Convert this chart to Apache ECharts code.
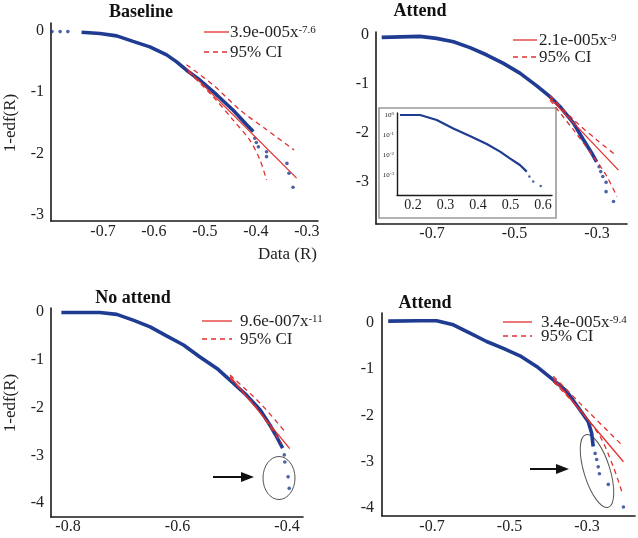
<!DOCTYPE html>
<html><head><meta charset="utf-8">
<script src="https://cdn.jsdelivr.net/npm/echarts@6/dist/echarts.min.js"></script>
<style>html,body{margin:0;padding:0;background:#fff}#c{width:638px;height:538px}</style>
</head><body><div id="c"></div>
<script>
// ---------- data (log10 values) ----------
// Panel A: Baseline
const baselineStartDots = [[-0.800,-0.01],[-0.784,-0.01],[-0.769,-0.01]];
const baselineCurve = [[-0.742,-0.02],[-0.706,-0.04],[-0.673,-0.08],[-0.641,-0.17],[-0.608,-0.26],[-0.575,-0.39],[-0.556,-0.50],[-0.536,-0.64],[-0.510,-0.80],[-0.477,-1.04],[-0.445,-1.29],[-0.418,-1.53],[-0.405,-1.64]];
const baselineTail = [[-0.402,-1.75],[-0.399,-1.82],[-0.395,-1.89],[-0.379,-1.97],[-0.379,-2.05],[-0.339,-2.16],[-0.335,-2.32],[-0.327,-2.55]];
const baselineFit = [[-0.536,-0.61],[-0.320,-2.40]];
const baselineCiUp = [[-0.536,-0.55],[-0.484,-0.88],[-0.431,-1.29],[-0.379,-1.61],[-0.325,-1.94]];
const baselineCiLo = [[-0.533,-0.66],[-0.484,-1.07],[-0.445,-1.45],[-0.412,-1.78],[-0.392,-2.10],[-0.379,-2.43]];
// Panel B: Attend (top)
const attendCurve = [[-0.822,-0.05],[-0.729,-0.03],[-0.689,-0.07],[-0.648,-0.14],[-0.608,-0.26],[-0.567,-0.41],[-0.527,-0.58],[-0.487,-0.78],[-0.446,-1.04],[-0.414,-1.26],[-0.390,-1.46],[-0.357,-1.80],[-0.333,-2.14],[-0.313,-2.41],[-0.301,-2.59]];
const attendTail = [[-0.295,-2.69],[-0.291,-2.79],[-0.286,-2.89],[-0.278,-3.01],[-0.278,-3.20],[-0.260,-3.40]];
const attendFit = [[-0.414,-1.29],[-0.248,-2.76]];
const attendCiUp = [[-0.414,-1.24],[-0.357,-1.73],[-0.301,-2.14],[-0.252,-2.47]];
const attendCiLo = [[-0.414,-1.33],[-0.357,-1.94],[-0.309,-2.48],[-0.276,-2.89],[-0.252,-3.30]];
// Inset (linear x, log10 y)
const insetCurve = [[0.160,0.0],[0.222,0.0],[0.273,-0.25],[0.324,-0.67],[0.375,-1.05],[0.427,-1.45],[0.468,-1.83],[0.498,-2.17],[0.529,-2.50],[0.550,-2.83]];
const insetTail = [[0.558,-3.08],[0.570,-3.33],[0.593,-3.55]];
// Panel C: No attend
const noAttendCurve = [[-0.812,-0.01],[-0.742,-0.01],[-0.711,-0.05],[-0.681,-0.17],[-0.650,-0.31],[-0.620,-0.50],[-0.589,-0.69],[-0.559,-0.94],[-0.528,-1.18],[-0.498,-1.49],[-0.474,-1.74],[-0.449,-2.05],[-0.431,-2.37],[-0.419,-2.61],[-0.408,-2.85]];
const noAttendTail = [[-0.405,-2.99],[-0.404,-3.14],[-0.398,-3.45],[-0.396,-3.69]];
const noAttendFit = [[-0.504,-1.35],[-0.395,-2.86]];
const noAttendCiUp = [[-0.504,-1.32],[-0.449,-1.91],[-0.401,-2.54]];
const noAttendCiLo = [[-0.504,-1.39],[-0.462,-1.91],[-0.431,-2.40],[-0.410,-2.75]];
// Panel D: Attend (bottom)
const attend2Curve = [[-0.813,0.04],[-0.731,0.05],[-0.688,0.05],[-0.645,-0.04],[-0.602,-0.22],[-0.559,-0.40],[-0.516,-0.55],[-0.473,-0.71],[-0.430,-0.94],[-0.387,-1.23],[-0.352,-1.48],[-0.318,-1.88],[-0.297,-2.13],[-0.288,-2.38],[-0.284,-2.67]];
const attend2Tail = [[-0.279,-2.82],[-0.275,-2.95],[-0.271,-3.11],[-0.268,-3.26],[-0.245,-3.49],[-0.206,-3.98]];
const attend2Fit = [[-0.387,-1.20],[-0.206,-3.00]];
const attend2CiUp = [[-0.387,-1.15],[-0.301,-1.88],[-0.206,-2.67]];
const attend2CiLo = [[-0.387,-1.27],[-0.318,-1.88],[-0.266,-2.46],[-0.232,-3.11],[-0.210,-3.65]];
// tick labels
const xTicksA = [-0.7,-0.6,-0.5,-0.4,-0.3];
const xTicksB = [-0.7,-0.5,-0.3];
const xTicksInset = [0.2,0.3,0.4,0.5,0.6];
const xTicksC = [-0.8,-0.6,-0.4];
const xTicksD = [-0.7,-0.5,-0.3];
const yTicks3 = [0,-1,-2,-3];
const yTicks4 = [0,-1,-2,-3,-4];
const yTicksInset = [0,-1,-2,-3];

// ---------- styling ----------
const SERIF = '"Liberation Serif", "Times New Roman", serif';
const BLUE = '#1f3c92', RED = '#e2302f', AX = '#1a1a1a';
const chart = echarts.init(document.getElementById('c'), null, {renderer:'canvas'});

function xAx(grid, min, max, ticks, fs, margin, lw){
  return {type:'value', gridIndex:grid, min, max, axisLine:{show:true,onZero:false,lineStyle:{color:AX,width:lw||1.6}},
    axisTick:{show:false}, splitLine:{show:false},
    axisLabel:{customValues:ticks, fontFamily:SERIF, fontSize:fs||16, color:'#222', margin:margin}};
}
function yAx(grid, min, max, ticks, margin, extra){
  const a = {type:'value', gridIndex:grid, min, max, axisLine:{show:true,onZero:false,lineStyle:{color:AX,width:1.6}},
    axisTick:{show:false}, splitLine:{show:false},
    axisLabel:{customValues:ticks, fontFamily:SERIF, fontSize:16, color:'#222', margin:margin}};
  return Object.assign(a, extra||{});
}
function curve(i, data){ return {type:'line', xAxisIndex:i, yAxisIndex:i, data, showSymbol:false, symbol:'none', lineStyle:{color:BLUE,width:3.6}, z:3}; }
function dots(i, data, size){ return {type:'scatter', xAxisIndex:i, yAxisIndex:i, data, symbolSize:size||3.6, itemStyle:{color:BLUE}, z:3}; }
function fit(i, data){ return {type:'line', xAxisIndex:i, yAxisIndex:i, data, symbol:'none', lineStyle:{color:RED,width:1.3}, z:4}; }
function ci(i, data){ return {type:'line', xAxisIndex:i, yAxisIndex:i, data, symbol:'none', smooth:0.3, lineStyle:{color:RED,width:1.3,type:[5,4]}, z:4}; }

function legend(x, y1, y2, base, sup, lx1, lx2){
  return [
    {type:'line', shape:{x1:lx1,y1:y1,x2:lx2,y2:y1}, style:{stroke:RED,lineWidth:1.3}},
    {type:'line', shape:{x1:lx1,y1:y2,x2:lx2,y2:y2}, style:{stroke:RED,lineWidth:1.3,lineDash:[5,4]}},
    {type:'text', x:x, y:y1+1, style:{text:'{b|'+base+'}{s|'+sup+'}', textVerticalAlign:'middle', fill:'#222',
      rich:{b:{fontFamily:SERIF,fontSize:17,fill:'#222'}, s:{fontFamily:SERIF,fontSize:11,fill:'#222',verticalAlign:'top'}}}},
    {type:'text', x:x, y:y2+1, style:{text:'95% CI', font:'17px '+SERIF, fill:'#222', textVerticalAlign:'middle'}}
  ];
}
function title(txt, cx, cy){ return {type:'text', x:cx, y:cy, style:{text:txt, font:'bold 18px '+SERIF, fill:'#111', textAlign:'center', textVerticalAlign:'middle'}}; }
function arrow(x1, x2, y){
  return [
    {type:'line', shape:{x1:x1,y1:y,x2:x2-6,y2:y}, style:{stroke:'#111',lineWidth:2}},
    {type:'polygon', shape:{points:[[x2-13,y-5],[x2,y],[x2-13,y+5]]}, style:{fill:'#111'}}
  ];
}

const option = {
  backgroundColor:'#fff',
  animation:false,
  grid:[
    {left:51, top:23, width:267, height:198},
    {left:376, top:32, width:251, height:192},
    {left:397, top:113, width:155, height:82, z:5},
    {left:51, top:308, width:252, height:209},
    {left:382, top:313, width:253, height:203}
  ],
  xAxis:[
    xAx(0, -0.802, -0.278, xTicksA, 16, 3),
    xAx(1, -0.8358, -0.2273, xTicksB, 16, 2),
    xAx(2, 0.1508, 0.6277, xTicksInset, 14, 3, 1.4),
    xAx(3, -0.831, -0.3708, xTicksC, 16, 2),
    xAx(4, -0.829, -0.1761, xTicksD, 16, 3)
  ],
  yAxis:[
    yAx(0, -3.1, 0.13, yTicks3, 7),
    yAx(1, -3.86, 0.06, yTicks3, 7),
    yAx(2, -4, 0.1, yTicksInset, 3, {axisLine:{show:true,onZero:false,lineStyle:{color:AX,width:1.4}},
      axisLabel:{customValues:yTicksInset, margin:3, formatter:v=>'{b|10}{s|'+v+'}',
        rich:{b:{fontFamily:SERIF,fontSize:7,color:'#222'}, s:{fontFamily:SERIF,fontSize:5,color:'#222',verticalAlign:'top'}}}}),
    yAx(3, -4.29, 0.084, yTicks4, 7),
    yAx(4, -4.173, 0.216, yTicks4, 8)
  ],
  series:[
    dots(0, baselineStartDots), curve(0, baselineCurve), dots(0, baselineTail), fit(0, baselineFit), ci(0, baselineCiUp), ci(0, baselineCiLo),
    curve(1, attendCurve), dots(1, attendTail), fit(1, attendFit), ci(1, attendCiUp), ci(1, attendCiLo),
    Object.assign(curve(2, insetCurve), {lineStyle:{color:BLUE,width:2.2}}), dots(2, insetTail, 2.5),
    curve(3, noAttendCurve), dots(3, noAttendTail), fit(3, noAttendFit), ci(3, noAttendCiUp), ci(3, noAttendCiLo),
    curve(4, attend2Curve), dots(4, attend2Tail), fit(4, attend2Fit), ci(4, attend2CiUp), ci(4, attend2CiLo)
  ],
  graphic:[
    title('Baseline', 141, 12), title('Attend', 420, 11), title('No attend', 133, 298), title('Attend', 425, 303),
    {type:'text', x:11, y:123, rotation:Math.PI/2, style:{text:'1-edf(R)', font:'17px '+SERIF, fill:'#222', textAlign:'center', textVerticalAlign:'middle'}},
    {type:'text', x:11, y:403, rotation:Math.PI/2, style:{text:'1-edf(R)', font:'17px '+SERIF, fill:'#222', textAlign:'center', textVerticalAlign:'middle'}},
    {type:'text', x:317, y:255, style:{text:'Data (R)', font:'17px '+SERIF, fill:'#222', textAlign:'right', textVerticalAlign:'middle'}},
    {type:'rect', shape:{x:379, y:108, width:177, height:110}, style:{fill:'none', stroke:'#9a9a9a', lineWidth:1.6}},
    ...legend(230, 32, 52, '3.9e-005x', '-7.6', 204, 229),
    ...legend(539, 40, 57, '2.1e-005x', '-9', 513, 537),
    ...legend(240, 321, 339, '9.6e-007x', '-11', 202, 232),
    ...legend(541, 322, 336, '3.4e-005x', '-9.4', 503, 532),
    {type:'ellipse', shape:{cx:279, cy:478, rx:16, ry:21.5}, style:{fill:'none', stroke:'#555', lineWidth:1}},
    {type:'ellipse', x:597, y:471, rotation:0.3, shape:{cx:0, cy:0, rx:13, ry:38}, style:{fill:'none', stroke:'#555', lineWidth:1}},
    ...arrow(213, 254, 477),
    ...arrow(530, 569, 469)
  ]
};
chart.setOption(option);
</script></body></html>
